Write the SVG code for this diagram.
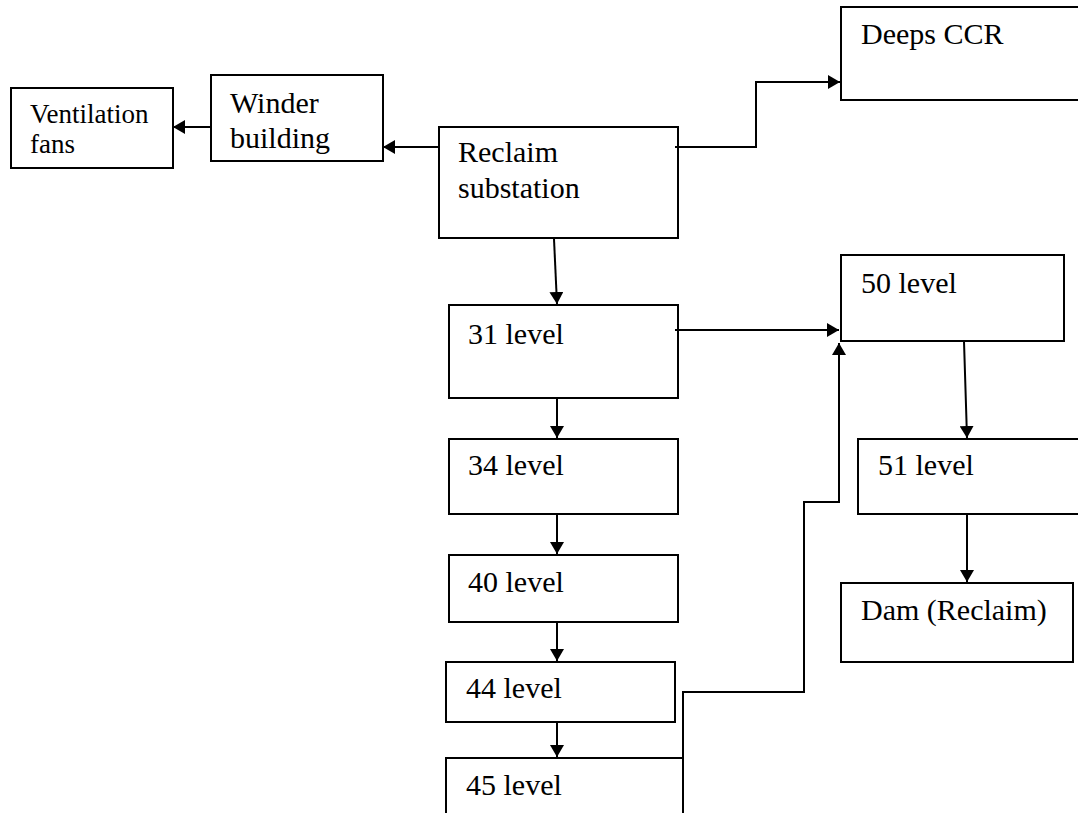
<svg xmlns="http://www.w3.org/2000/svg" width="1078" height="813" viewBox="0 0 1078 813">
<style>
.box{fill:#fff;stroke:#000;stroke-width:2}
.lbl{font-family:"Liberation Serif","Times New Roman",Tinos,"DejaVu Serif",serif;font-size:30px;fill:#000}
.sm{font-size:27px}
.con{fill:none;stroke:#000;stroke-width:2}
</style>
<defs>
<marker id="ah" viewBox="0 0 12 14" markerWidth="12" markerHeight="14" markerUnits="userSpaceOnUse" refX="12" refY="7" orient="auto">
<path d="M0,0 L12,7 L0,14 z" fill="#000"/>
</marker>
</defs>
<rect width="1078" height="813" fill="#fff"/>
<g id="ventilation"><rect class="box" x="11" y="88" width="162" height="80"/><text class="lbl sm" x="30" y="123">Ventilation</text><text class="lbl sm" x="30" y="153">fans</text></g>
<g id="winder"><rect class="box" x="211" y="75" width="172" height="86"/><text class="lbl" x="230" y="113">Winder</text><text class="lbl" x="230" y="148">building</text></g>
<g id="reclaim"><rect class="box" x="439" y="127" width="239" height="111"/><text class="lbl" x="458" y="162">Reclaim</text><text class="lbl" x="458" y="198">substation</text></g>
<g id="deeps"><rect class="box" x="841" y="7" width="250" height="93"/><text class="lbl" x="861" y="44">Deeps CCR</text></g>
<g id="l31"><rect class="box" x="449" y="305" width="229" height="93"/><text class="lbl" x="468" y="344">31 level</text></g>
<g id="l34"><rect class="box" x="449" y="439" width="229" height="75"/><text class="lbl" x="468" y="475">34 level</text></g>
<g id="l40"><rect class="box" x="449" y="555" width="229" height="67"/><text class="lbl" x="468" y="592">40 level</text></g>
<g id="l44"><rect class="box" x="446" y="662" width="229" height="60"/><text class="lbl" x="466" y="698">44 level</text></g>
<g id="l45"><rect class="box" x="446" y="758" width="237" height="70"/><text class="lbl" x="466" y="795">45 level</text></g>
<g id="l50"><rect class="box" x="841" y="255" width="223" height="86"/><text class="lbl" x="861" y="293">50 level</text></g>
<g id="l51"><rect class="box" x="858" y="439" width="230" height="75"/><text class="lbl" x="878" y="475">51 level</text></g>
<g id="dam"><rect class="box" x="841" y="583" width="232" height="79"/><text class="lbl" x="861" y="620">Dam (Reclaim)</text></g>
<g id="connectors">
<line class="con" x1="211" y1="127" x2="173" y2="127" marker-end="url(#ah)"/>
<line class="con" x1="438" y1="147" x2="383" y2="147" marker-end="url(#ah)"/>
<polyline class="con" points="675,147 756,147 756,82 840,82" marker-end="url(#ah)"/>
<line class="con" x1="554" y1="239" x2="557" y2="304" marker-end="url(#ah)"/>
<line class="con" x1="675" y1="330" x2="839" y2="330" marker-end="url(#ah)"/>
<line class="con" x1="557" y1="398" x2="557" y2="438" marker-end="url(#ah)"/>
<line class="con" x1="557" y1="514" x2="557" y2="554" marker-end="url(#ah)"/>
<line class="con" x1="557" y1="622" x2="557" y2="661" marker-end="url(#ah)"/>
<line class="con" x1="557" y1="722" x2="557" y2="757" marker-end="url(#ah)"/>
<polyline class="con" points="683,758 683,692 804,692 804,502 839,502 839,343" marker-end="url(#ah)"/>
<line class="con" x1="964" y1="341" x2="967" y2="438" marker-end="url(#ah)"/>
<line class="con" x1="967" y1="514" x2="967" y2="582" marker-end="url(#ah)"/>
</g>
</svg>
